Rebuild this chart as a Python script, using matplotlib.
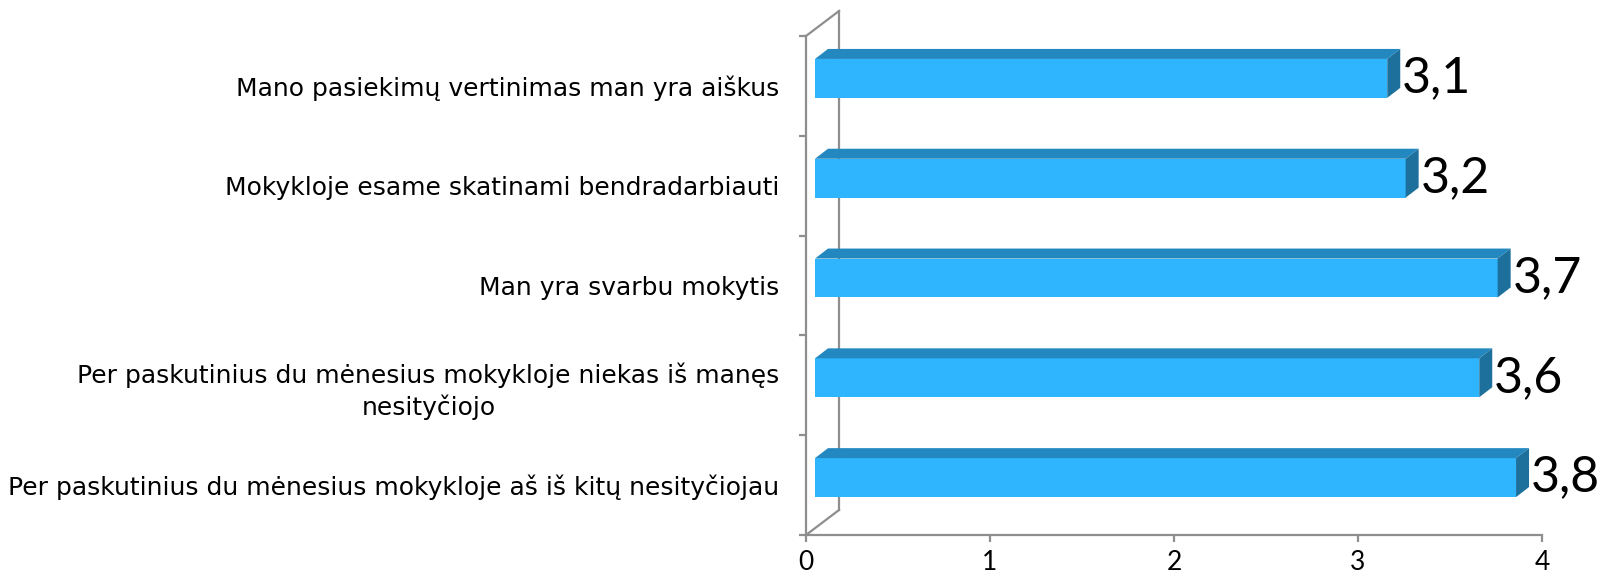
import numpy as np
import matplotlib
matplotlib.use("Agg")
import matplotlib.pyplot as plt
from matplotlib.patches import Polygon
from matplotlib.transforms import ScaledTranslation

plt.rcParams["font.family"] = ["Lato", "DejaVu Sans"]

categories = [
    "Mano pasiekimų vertinimas man yra aiškus",
    "Mokykloje esame skatinami bendradarbiauti",
    "Man yra svarbu mokytis",
    "Per paskutinius du mėnesius mokykloje niekas iš manęs\nnesityčiojo",
    "Per paskutinius du mėnesius mokykloje aš iš kitų nesityčiojau",
]
values = [3.11, 3.21, 3.71, 3.61, 3.81]
xticks = [0, 1, 2, 3, 4]

front_col = "#2FB5FE"
top_col = "#2488C0"
side_col = "#1E709C"
axis_col = "#8E8E8E"

DPI = 100
fig = plt.figure(figsize=(16.02, 5.78), dpi=DPI)
ax = fig.add_axes([806 / 1602, 1 - 535 / 578, 736 / 1602, 499 / 578])
ax.set_xlim(0, 4)
ax.set_ylim(len(categories) - 0.5, -0.5)
ax.patch.set_visible(False)

# spines / ticks
for s in ["top", "right"]:
    ax.spines[s].set_visible(False)
for s in ["left", "bottom"]:
    ax.spines[s].set_color(axis_col)
    ax.spines[s].set_linewidth(1.6)

ax.set_xticks(xticks)
ax.set_xticklabels([str(t) for t in xticks], fontsize=19)
ax.tick_params(axis="x", direction="out", length=5, width=1.6, color=axis_col, pad=6)

ypos = np.arange(len(categories))
ax.set_yticks(ypos)
ax.set_yticklabels(categories, fontsize=18, family="DejaVu Sans",
                   multialignment="center", linespacing=1.35)
ax.tick_params(axis="y", which="major", length=0, pad=19)
ax.set_yticks(np.arange(len(categories) + 1) - 0.5, minor=True)
ax.tick_params(axis="y", which="minor", direction="out", length=5, width=1.6, color=axis_col)


def shifted(dx, dy):
    return ax.transData + ScaledTranslation(dx / DPI, dy / DPI, fig.dpi_scale_trans)


# back wall lines (3D depth)
wall = (33, 25)
ax.plot([0, 0], [-0.5, len(categories) - 0.5], color=axis_col, lw=1.6,
        transform=shifted(*wall), clip_on=False, zorder=1)
to_disp = ax.transData.transform
for yy in [-0.5, len(categories) - 0.5]:
    x0, y0 = to_disp((0, yy))
    ax.plot([x0, x0 + wall[0]], [y0, y0 + wall[1]], color=axis_col, lw=1.6,
            transform=None, clip_on=False, zorder=1)

# bars as boxes
front = (9, 7.5)
depth = (13, 10)
bar_h = 0.39
for i, v in enumerate(values):
    ax.barh(i, v, height=bar_h, color=front_col, transform=shifted(*front), zorder=3)
    (xl, yt) = to_disp((0, i - bar_h / 2))
    (xr, yb) = to_disp((v, i + bar_h / 2))
    xl += front[0]; xr += front[0]; yt += front[1]; yb += front[1]
    top = [(xl, yt), (xr, yt), (xr + depth[0], yt + depth[1]), (xl + depth[0], yt + depth[1])]
    side = [(xr, yt), (xr, yb), (xr + depth[0], yb + depth[1]), (xr + depth[0], yt + depth[1])]
    ax.add_patch(Polygon(top, closed=True, facecolor=top_col, edgecolor="none",
                         transform=None, zorder=3, clip_on=False))
    ax.add_patch(Polygon(side, closed=True, facecolor=side_col, edgecolor="none",
                         transform=None, zorder=3, clip_on=False))
    ax.text(v, i, f"{v:.1f}".replace(".", ","), fontsize=36, ha="left", va="center",
            transform=shifted(front[0] + depth[0] + 2, front[1]), zorder=4)

fig.savefig("out.png", dpi=DPI)
